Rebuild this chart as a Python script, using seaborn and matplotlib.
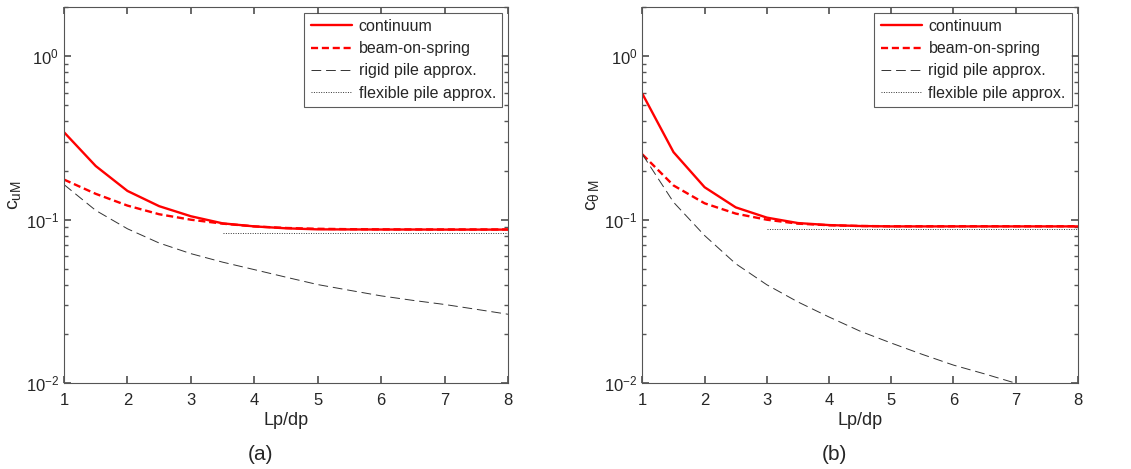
import numpy as np
import pandas as pd
import matplotlib
matplotlib.use("Agg")
import matplotlib.pyplot as plt
import seaborn as sns

# Lp/dp sample points
x_fine = [1, 1.5, 2, 2.5, 3, 3.5, 4, 4.5, 5, 5.5, 6, 6.5, 7, 7.5, 8]

# (a) c_uM
a_continuum = [0.343, 0.213, 0.150, 0.121, 0.105, 0.095, 0.091, 0.0886, 0.0873, 0.0872, 0.0871, 0.0871, 0.0870, 0.0870, 0.0870]
a_beam = [0.176, 0.144, 0.122, 0.108, 0.100, 0.0946, 0.091, 0.089, 0.088, 0.0875, 0.0873, 0.0872, 0.0872, 0.0872, 0.0872]
a_rigid = [0.164, 0.114, 0.088, 0.072, 0.062, 0.055, 0.0495, 0.0445, 0.0401, 0.0370, 0.0342, 0.0321, 0.0303, 0.0283, 0.0264]
a_flex_x = [3.5, 8]
a_flex = [0.0833, 0.0833]

# (b) c_thetaM
b_continuum = [0.589, 0.259, 0.158, 0.119, 0.103, 0.0954, 0.0927, 0.0915, 0.091, 0.091, 0.091, 0.091, 0.091, 0.091, 0.091]
b_beam = [0.251, 0.162, 0.126, 0.109, 0.100, 0.0946, 0.0925, 0.0915, 0.0912, 0.0912, 0.0912, 0.0912, 0.0912, 0.0912, 0.0912]
b_rigid = [0.251, 0.128, 0.080, 0.0538, 0.040, 0.0314, 0.0254, 0.0208, 0.0176, 0.0150, 0.0129, 0.0114, 0.0100, 0.0088, 0.0078]
b_flex_x = [3, 8]
b_flex = [0.088, 0.088]

labels = ["continuum", "beam-on-spring", "rigid pile approx.", "flexible pile approx."]

sns.set_theme(style="ticks")
plt.rcParams["font.family"] = ["Liberation Sans", "DejaVu Sans"]
plt.rcParams["mathtext.fontset"] = "custom"
plt.rcParams["mathtext.rm"] = "Liberation Sans"
plt.rcParams["mathtext.it"] = "Liberation Sans"
plt.rcParams["xtick.direction"] = "in"
plt.rcParams["ytick.direction"] = "in"

fig = plt.figure(figsize=(11.31, 4.69), dpi=100)
ax_a = fig.add_axes([0.0566, 0.183, 0.3926, 0.802])
ax_b = fig.add_axes([0.568, 0.183, 0.385, 0.802])


def draw(ax, cont, beam, rigid, fx, flex, ylabel):
    sns.lineplot(x=x_fine, y=cont, ax=ax, color="red", lw=1.7, label=labels[0])
    sns.lineplot(x=x_fine, y=beam, ax=ax, color="red", lw=1.7, label=labels[1],
                 linestyle=(0, (3, 1.6)))
    sns.lineplot(x=x_fine, y=rigid, ax=ax, color="#333333", lw=0.7, label=labels[2],
                 linestyle=(0, (10, 5)))
    sns.lineplot(x=fx, y=flex, ax=ax, color="#333333", lw=0.7, label=labels[3],
                 linestyle=(0, (1, 1.5)))
    ax.set_yscale("log")
    ax.set_xlim(1, 8)
    ax.set_ylim(0.01, 2)
    ax.set_xticks(range(1, 9))
    ax.set_xlabel("Lp/dp", fontsize=13, labelpad=3)
    ax.set_ylabel(ylabel, fontsize=14, labelpad=2)
    ax.tick_params(which="both", top=True, right=True, labelsize=12, color="#555555")
    ax.tick_params(axis="x", pad=7)
    ax.tick_params(which="major", length=5)
    ax.tick_params(which="minor", length=3)
    for s in ax.spines.values():
        s.set_color("#555555")
        s.set_linewidth(0.8)
    leg = ax.legend(loc="upper right", fontsize=11.5, frameon=True, fancybox=False,
                    edgecolor="#333333", handlelength=2.6, borderaxespad=0.35,
                    labelspacing=0.45, handletextpad=0.4, borderpad=0.4)
    leg.get_frame().set_linewidth(0.8)


draw(ax_a, a_continuum, a_beam, a_rigid, a_flex_x, a_flex, r"$\mathrm{c}_{\mathrm{uM}}$")
draw(ax_b, b_continuum, b_beam, b_rigid, b_flex_x, b_flex, r"$\mathrm{c}_{\theta\,\mathrm{M}}$")

fig.text(0.23, 0.02, "(a)", fontsize=15, ha="center")
fig.text(0.738, 0.02, "(b)", fontsize=15, ha="center")

fig.savefig("out.png", dpi=100)
